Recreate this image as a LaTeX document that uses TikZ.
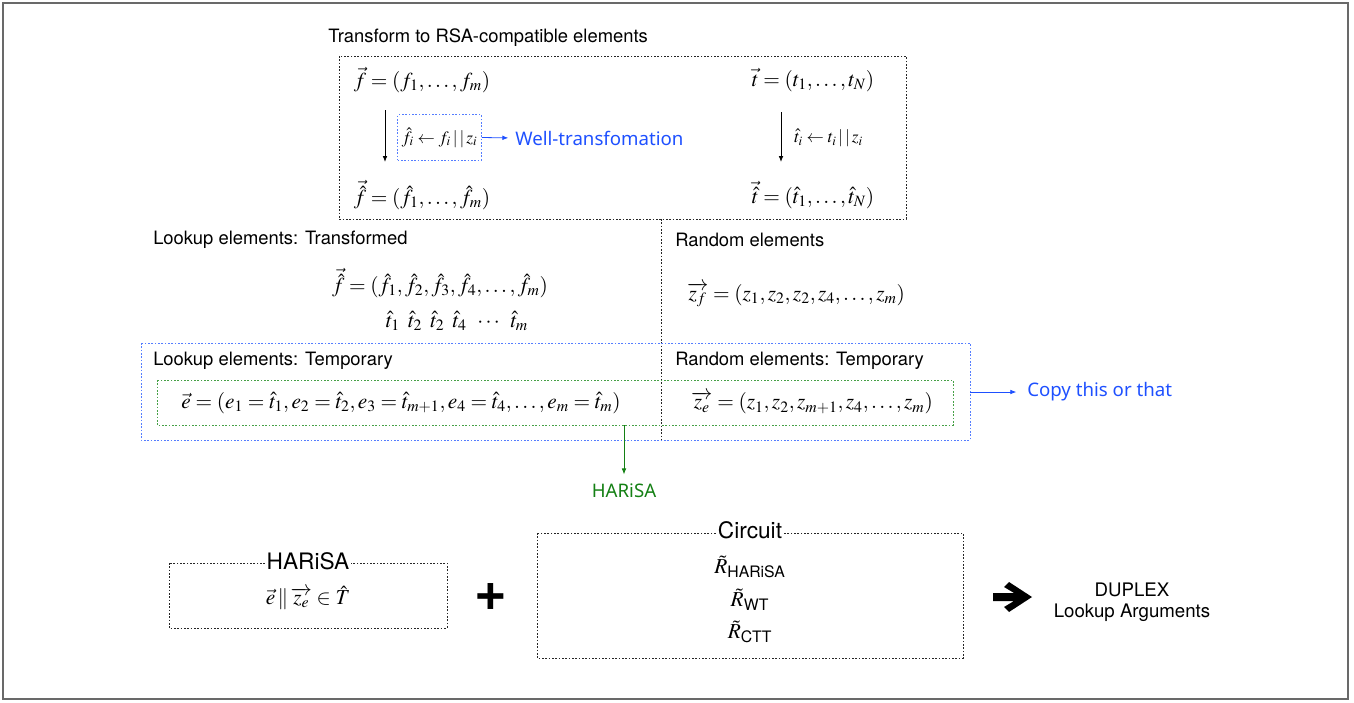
\documentclass[tikz,border=0pt]{standalone}
\usepackage{amsmath}
\usepackage{mathptmx}
\usepackage[no-math]{fontspec}
\setmainfont{TeX Gyre Heros}
\newfontfamily\noteFont{Noto Sans}
\usepackage{tikz}
\usetikzlibrary{positioning}
\usetikzlibrary{arrows.meta}
\definecolor{noteBlue}{RGB}{30,80,255}
\definecolor{boxBlue}{RGB}{85,125,255}
\definecolor{noteGreen}{RGB}{20,128,20}
\definecolor{boxGreen}{RGB}{70,160,70}
\definecolor{frameGray}{RGB}{105,105,105}
\tikzstyle{canvas} = [x = .75pt, y = -.75pt]
\tikzstyle{dotLine} = [dash pattern = on 1.2pt off 1.3pt, line width = .75pt]
\tikzstyle{plainBox} = [dotLine, color=black!85]
\tikzstyle{blueBox} = [dotLine, color=boxBlue]
\tikzstyle{greenBox} = [dotLine, color=boxGreen]
\tikzstyle{headText} = [font=\fontsize{13.8}{15}\selectfont, anchor=west, inner sep=0]
\tikzstyle{mathText} = [font=\fontsize{16}{18}\selectfont, inner sep=0]
\tikzstyle{smallMath} = [font=\fontsize{13}{15}\selectfont, inner sep=0]
\tikzstyle{noteText} = [font=\noteFont\fontsize{14}{16}\selectfont, anchor=west, inner sep=0]
\tikzstyle{noteArrow} = [-{Latex[length=4.5pt, width=3.5pt]}, line width=.6pt]
\tikzstyle{boxTitle} = [font=\fontsize{17}{19}\selectfont, fill=white, inner xsep=1pt, inner ysep=0]
\newcommand{\hatVec}[1]{\vec{\hat{#1}}}
\newcommand{\longVec}[1]{\overrightarrow{#1}}

\begin{document}
\begin{tikzpicture}[canvas]
  \useasboundingbox (0,0) rectangle (1354,703);
  \draw [frameGray, line width=1.4pt] (3,3) rectangle (1348,699);

  % transform step
  \node [headText] (transformTitle) at (328,38) {Transform to RSA-compatible elements};
  \draw [plainBox] (339,56) rectangle (906,219);
  \node [mathText] (fVec) at (422,80) {$\vec{f} = (f_1, \ldots, f_m)$};
  \node [mathText] (tVec) at (813,80) {$\vec{t} = (t_1, \ldots, t_N)$};
  \node [mathText] (fHatVec) at (422,195) {$\hatVec{f} = (\hat{f}_1, \ldots, \hat{f}_m)$};
  \node [mathText] (tHatVec) at (813,195) {$\hatVec{t} = (\hat{t}_1, \ldots, \hat{t}_N)$};
  \coordinate (fDownTop) at (385,110);
  \coordinate (fDownEnd) at (385,162);
  \coordinate (tDownTop) at (781,112);
  \coordinate (tDownEnd) at (781,162);
  \draw [noteArrow] (fDownTop) -- (fDownEnd);
  \draw [noteArrow] (tDownTop) -- (tDownEnd);
  \node [smallMath, draw, blueBox, text=black, inner xsep=3pt, minimum height=34pt] (wellRule) at (439.5,137.5) {$\hat{f}_i \leftarrow f_i\,|\,|\,z_i$};
  \node [smallMath, anchor=west] (tRule) at (794,138) {$\hat{t}_i \leftarrow t_i\,|\,|\,z_i$};
  \node [noteText, text=noteBlue] (wellNote) at (515,138) {Well-transfomation};
  \draw [noteArrow, noteBlue, shorten >=5pt] (wellRule.east) -- (wellNote.west);

  % lookup and random elements
  \draw [plainBox] (661,219) -- (661,440);
  \node [headText] (lookupTitle) at (153,240) {Lookup elements: Transformed};
  \node [headText] (randomTitle) at (675,240) {Random elements};
  \node [mathText] (fHatList) at (440,283) {$\hatVec{f} = (\hat{f}_1, \hat{f}_2, \hat{f}_3, \hat{f}_4, \ldots, \hat{f}_m)$};
  \node [mathText] (tHatList) at (457,321) {$\hat{t}_1\ \,\hat{t}_2\ \,\hat{t}_2\ \,\hat{t}_4\ \,\cdots\ \,\hat{t}_m$};
  \node [mathText] (zfList) at (796,295) {$\longVec{z_f} = (z_1, z_2, z_2, z_4, \ldots, z_m)$};

  % temporary elements
  \draw [blueBox] (141,343) rectangle (970,440);
  \draw [greenBox] (157,380) rectangle (953,425);
  \node [headText] (lookupTemp) at (153,361) {Lookup elements: Temporary};
  \node [headText] (randomTemp) at (675,361) {Random elements: Temporary};
  \node [mathText] (eList) at (401,403) {$\vec{e} = (e_1 = \hat{t}_1, e_2 = \hat{t}_2, e_3 = \hat{t}_{m+1}, e_4 = \hat{t}_4, \ldots, e_m = \hat{t}_m)$};
  \node [mathText] (zeList) at (812,403) {$\longVec{z_e} = (z_1, z_2, z_{m+1}, z_4, \ldots, z_m)$};
  \coordinate (copyStart) at (970,392);
  \node [noteText, text=noteBlue] (copyNote) at (1027,392) {Copy this or that};
  \draw [noteArrow, noteBlue, shorten >=8pt] (copyStart) -- (copyNote.west);
  \coordinate (harisaStart) at (624,425);
  \node [noteText, anchor=center, text=noteGreen] (harisaNote) at (624,491) {HARiSA};
  \draw [noteArrow, noteGreen, shorten >=7pt] (harisaStart) -- (harisaNote.north);

  % HARiSA + circuit
  \draw [plainBox] (169,563) rectangle (447,628);
  \node [boxTitle] (harisaTitle) at (308,561) {HARiSA};
  \node [mathText] (harisaRel) at (308,598) {$\vec{e}\,\|\,\longVec{z_e} \in \hat{T}$};
  \node [font=\fontsize{42}{42}\selectfont\bfseries, inner sep=0] (plusSign) at (491,597) {+};
  \draw [plainBox] (537,533) rectangle (963,658);
  \node [boxTitle] (circuitTitle) at (750,530) {Circuit};
  \node [mathText] (rHarisa) at (750,567) {$\tilde{R}_{\text{HARiSA}}$};
  \node [mathText] (rWt) at (750,600) {$\tilde{R}_{\text{WT}}$};
  \node [mathText] (rCtt) at (750,632) {$\tilde{R}_{\text{CTT}}$};
  \fill (993,593) -- (1014,593) -- (1004,587) -- (1009,582) -- (1032,597) -- (1009,612) -- (1004,607) -- (1014,601) -- (993,601) -- cycle;
  \node [font=\fontsize{14}{15}\selectfont, inner sep=0] (duplexName) at (1132,590) {DUPLEX};
  \node [font=\fontsize{14}{15}\selectfont, inner sep=0, below=5pt of duplexName] (duplexSub) {Lookup Arguments};
\end{tikzpicture}
\end{document}
